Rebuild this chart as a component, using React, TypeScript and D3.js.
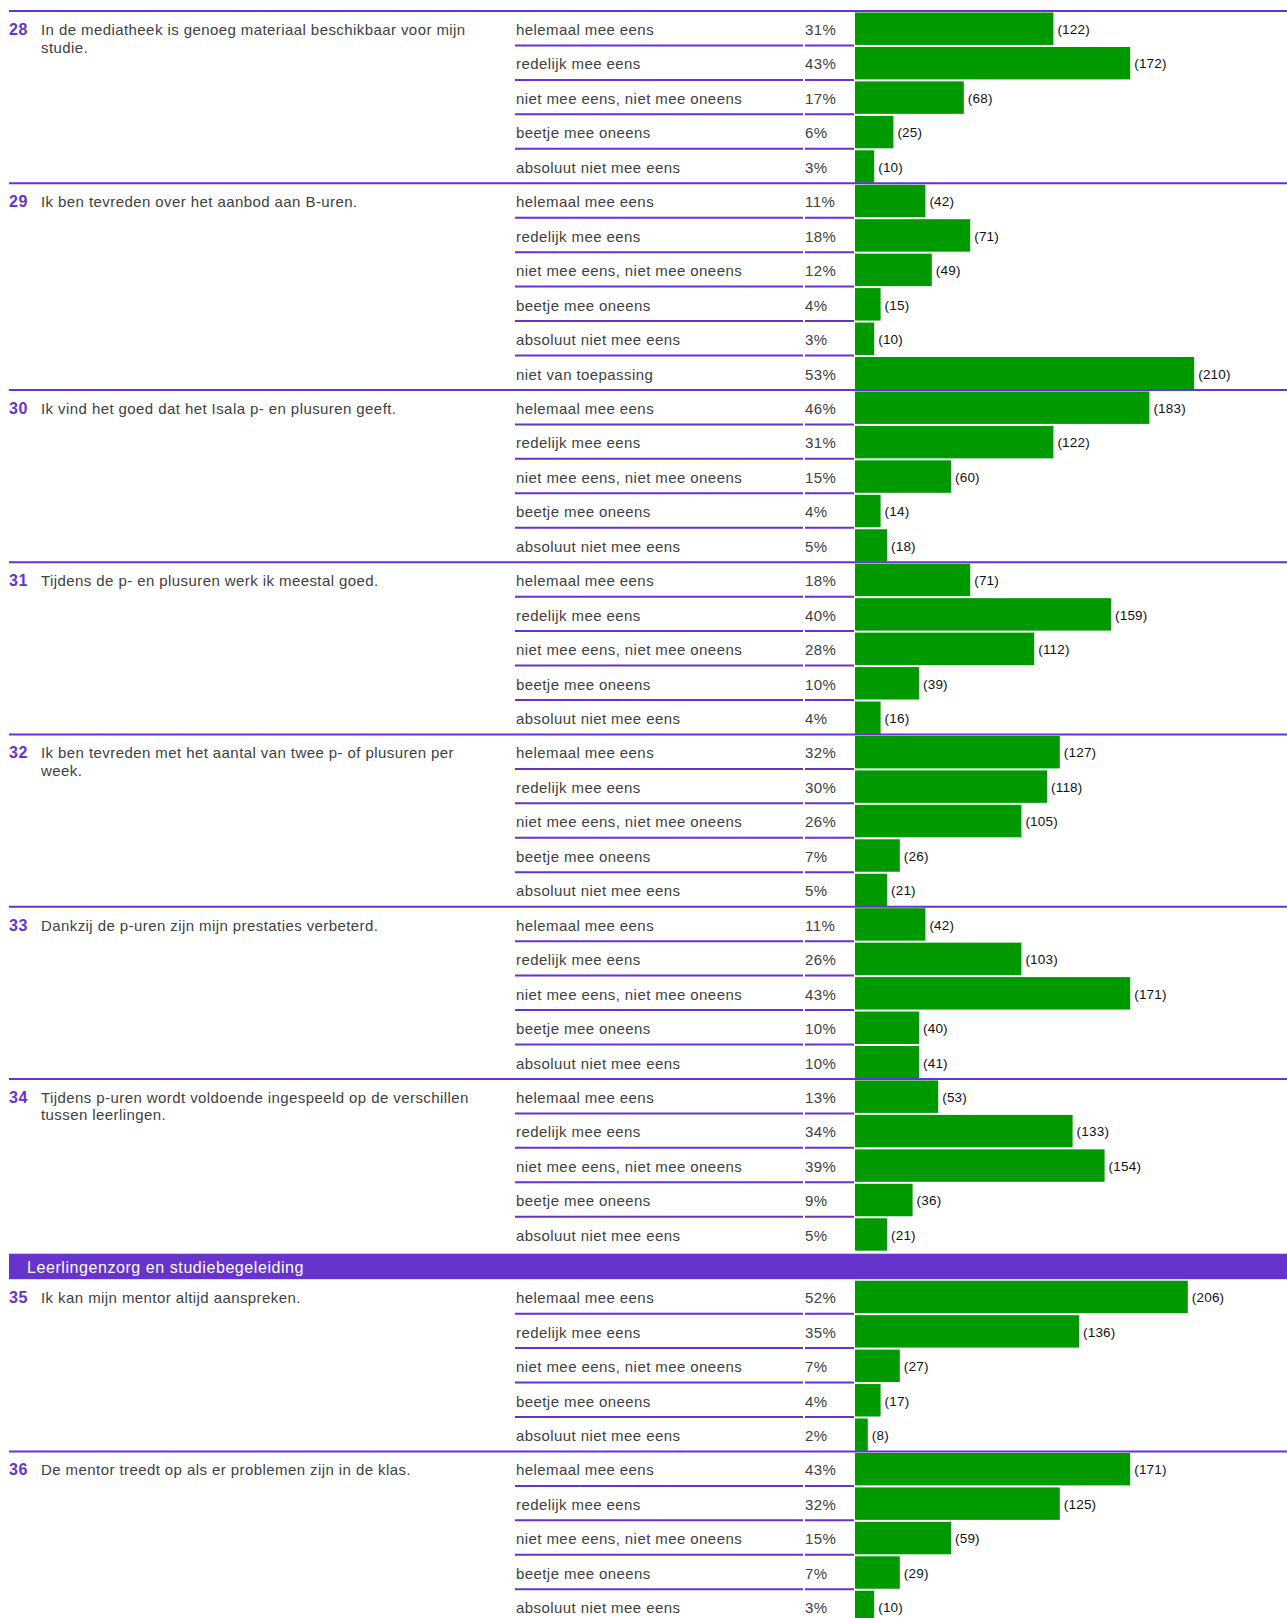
import React, { useEffect, useRef } from 'react';
import * as d3 from 'd3';

// answer categories
const answers5 = [
  'helemaal mee eens',
  'redelijk mee eens',
  'niet mee eens, niet mee oneens',
  'beetje mee oneens',
  'absoluut niet mee eens',
];
const answers6 = [...answers5, 'niet van toepassing'];

const questionNumbers = [28, 29, 30, 31, 32, 33, 34, 35, 36];
const questionTexts = [
  'In de mediatheek is genoeg materiaal beschikbaar voor mijn studie.',
  'Ik ben tevreden over het aanbod aan B-uren.',
  'Ik vind het goed dat het Isala p- en plusuren geeft.',
  'Tijdens de p- en plusuren werk ik meestal goed.',
  'Ik ben tevreden met het aantal van twee p- of plusuren per week.',
  'Dankzij de p-uren zijn mijn prestaties verbeterd.',
  'Tijdens p-uren wordt voldoende ingespeeld op de verschillen tussen leerlingen.',
  'Ik kan mijn mentor altijd aanspreken.',
  'De mentor treedt op als er problemen zijn in de klas.',
];
const questionAnswers = [answers5, answers6, answers5, answers5, answers5, answers5, answers5, answers5, answers5];

const percentages = [
  [31, 43, 17, 6, 3],
  [11, 18, 12, 4, 3, 53],
  [46, 31, 15, 4, 5],
  [18, 40, 28, 10, 4],
  [32, 30, 26, 7, 5],
  [11, 26, 43, 10, 10],
  [13, 34, 39, 9, 5],
  [52, 35, 7, 4, 2],
  [43, 32, 15, 7, 3],
];
const counts = [
  [122, 172, 68, 25, 10],
  [42, 71, 49, 15, 10, 210],
  [183, 122, 60, 14, 18],
  [71, 159, 112, 39, 16],
  [127, 118, 105, 26, 21],
  [42, 103, 171, 40, 41],
  [53, 133, 154, 36, 21],
  [206, 136, 27, 17, 8],
  [171, 125, 59, 29, 10],
];

// section header placed before this question number
const sectionTitle = 'Leerlingenzorg en studiebegeleiding';
const sectionBefore = 35;

const W = 1287;
const H = 1618;
const PURPLE = '#6633cc';
const GREEN = '#009900';
const TEXT = '#404040';
const FONT = '"Liberation Sans", Arial, Helvetica, sans-serif';

function App() {
  const ref = useRef(null);

  useEffect(() => {
    drawChart();
  }, []);

  function drawChart() {
    d3.select(ref.current).selectAll('*').remove();
    const svg = d3.select(ref.current);

    const rowH = 34.45;
    const bandH = 28;
    const top = 11;

    const x = d3.scaleLinear().domain([0, 100]).range([0, 640]);
    const barX = 855;

    const label = (sel) => sel
      .attr('fill', TEXT)
      .style('font-family', FONT)
      .style('font-size', '15px')
      .style('letter-spacing', '0.42px');

    let cursor = top;
    questionNumbers.forEach((num, g) => {
      if (num === sectionBefore) {
        // section header band
        svg.append('rect')
          .attr('x', 9).attr('y', cursor + 2.5)
          .attr('width', W - 9).attr('height', bandH - 2.5)
          .attr('fill', PURPLE);
        svg.append('text')
          .attr('x', 27).attr('y', cursor + 21.5)
          .attr('fill', '#fff')
          .style('font-family', FONT)
          .style('font-size', '16px')
          .style('letter-spacing', '0.57px')
          .text(sectionTitle);
        cursor += bandH;
      }

      const ans = questionAnswers[g];
      const y = d3.scaleBand()
        .domain(ans.map((_, i) => String(i)))
        .range([cursor, cursor + ans.length * rowH]);

      const grp = svg.append('g');

      // group line on top (not under the section band)
      if (num !== sectionBefore) {
        grp.append('line')
          .attr('x1', 9).attr('x2', W)
          .attr('y1', cursor).attr('y2', cursor)
          .attr('stroke', PURPLE).attr('stroke-width', 2);
      }

      grp.append('text')
        .attr('x', 9).attr('y', cursor + 24)
        .attr('fill', PURPLE)
        .style('font-family', FONT)
        .style('font-size', '16px')
        .style('font-weight', 'bold')
        .style('letter-spacing', '0.6px')
        .text(num);

      // question text, wrapped
      const qText = grp.append('text')
        .attr('x', 41).attr('y', cursor + 24)
        .call(label);
      const words = questionTexts[g].split(' ');
      let line: string[] = [];
      let tspan = qText.append('tspan').attr('x', 41).attr('dy', 0);
      words.forEach((w) => {
        line.push(w);
        tspan.text(line.join(' '));
        const node = tspan.node() as SVGTSpanElement;
        if (node.getComputedTextLength() > 445 && line.length > 1) {
          line.pop();
          tspan.text(line.join(' '));
          line = [w];
          tspan = qText.append('tspan').attr('x', 41).attr('dy', 17.5).text(w);
        }
      });

      ans.forEach((a, i) => {
        const ry = y(String(i));
        // separators between rows
        if (i > 0) {
          grp.append('line')
            .attr('x1', 515).attr('x2', 803)
            .attr('y1', ry).attr('y2', ry)
            .attr('stroke', PURPLE).attr('stroke-width', 2);
          grp.append('line')
            .attr('x1', 805).attr('x2', 854)
            .attr('y1', ry).attr('y2', ry)
            .attr('stroke', PURPLE).attr('stroke-width', 2);
        }
        grp.append('text')
          .attr('x', 516).attr('y', ry + 24)
          .call(label)
          .text(a);
        grp.append('text')
          .attr('x', 805).attr('y', ry + 24)
          .call(label)
          .text(percentages[g][i] + '%');
      });

      // bars
      grp.selectAll('rect.bar')
        .data(percentages[g])
        .enter()
        .append('rect')
        .attr('class', 'bar')
        .attr('x', barX)
        .attr('y', (_, i) => y(String(i)) + 1.5)
        .attr('width', (d) => x(d))
        .attr('height', y.bandwidth() - 2)
        .attr('fill', GREEN);

      grp.selectAll('text.count')
        .data(counts[g])
        .enter()
        .append('text')
        .attr('class', 'count')
        .attr('x', (_, i) => barX + x(percentages[g][i]) + 4)
        .attr('y', (_, i) => y(String(i)) + 23)
        .attr('fill', '#111')
        .style('font-family', FONT)
        .style('font-size', '13.5px')
        .style('letter-spacing', '0.2px')
        .text((d) => `(${d})`);

      cursor += ans.length * rowH;
    });
  }

  return (
    <svg
      ref={ref}
      width={W}
      height={H}
      style={{ position: 'absolute', left: 0, top: 0, background: '#fff' }}
    />
  );
}

export default App;
